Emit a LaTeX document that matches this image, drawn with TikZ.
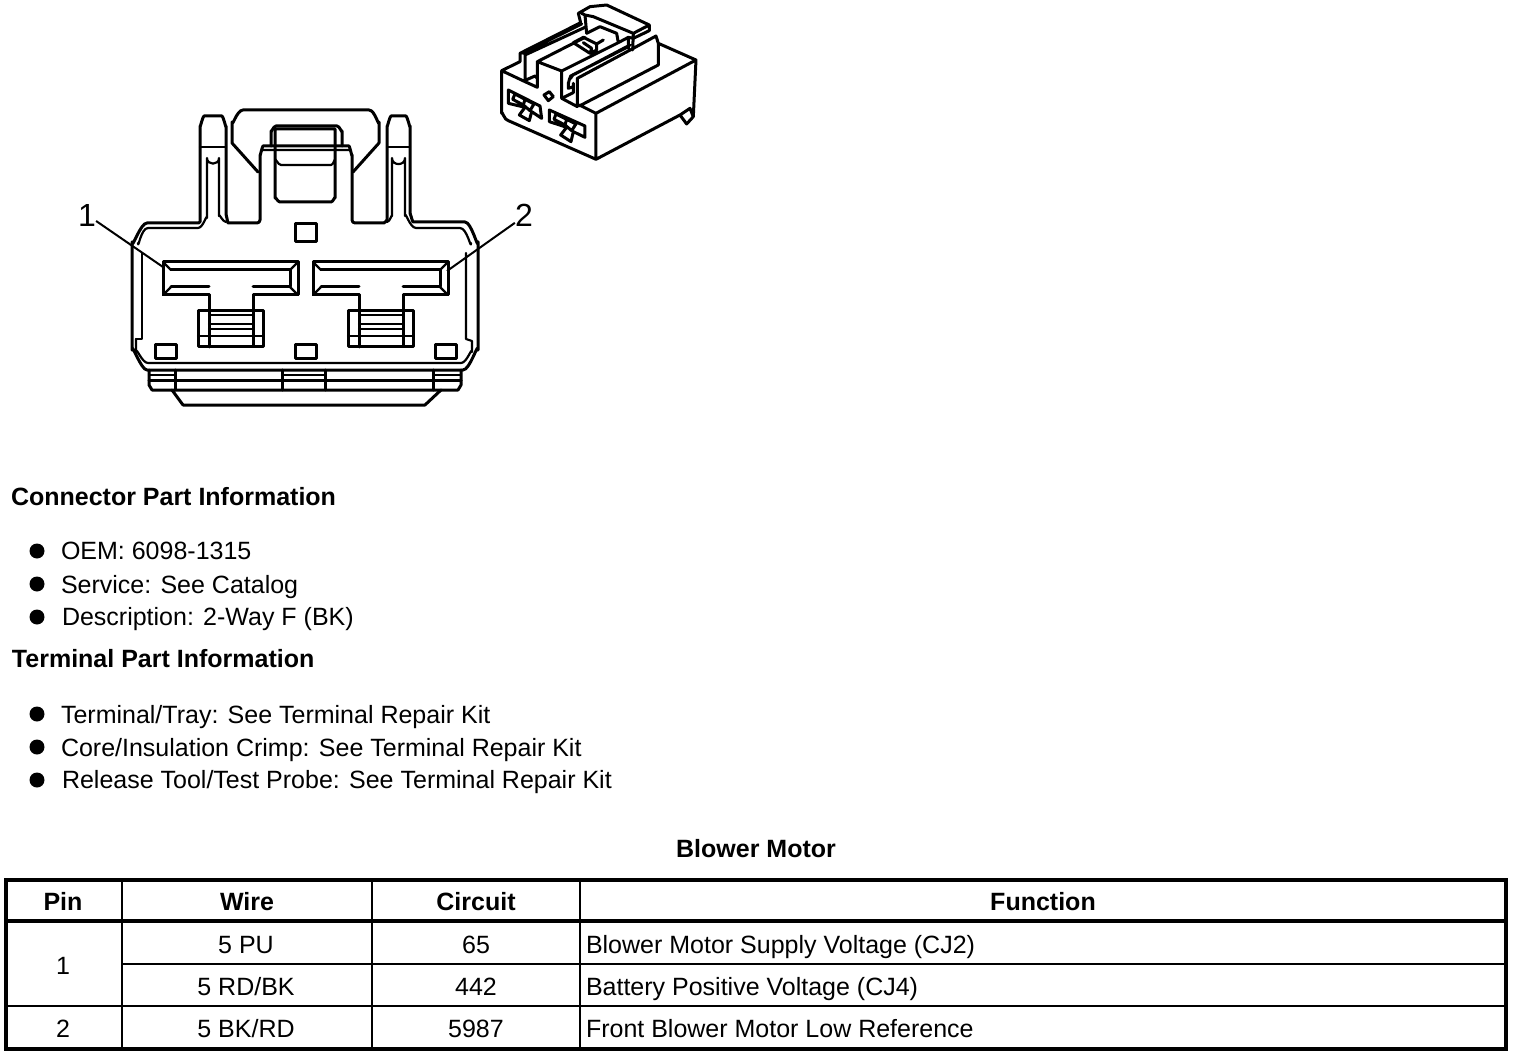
\documentclass[tikz,border=0pt]{standalone}
\usepackage{fontspec}
\setmainfont{Liberation Sans}
\tikzset{
  x=1pt,y=-1pt,
  ln/.style={line width=3pt,line cap=round,line join=round},
  thin ln/.style={line width=2.2pt,line cap=round,line join=round},
  txt/.style={anchor=base west,inner sep=0pt,outer sep=0pt,font=\fontsize{25}{28}\selectfont},
  ctr/.style={anchor=base,inner sep=0pt,outer sep=0pt,font=\fontsize{25}{28}\selectfont},
  hd/.style={font=\fontsize{25}{28}\selectfont\bfseries},
  bul/.style={circle,fill=black,inner sep=0pt,minimum size=15pt},
  num/.style={anchor=base,inner sep=0pt,font=\fontsize{32}{36}\selectfont}
}
\newcommand{\termT}[1]{%
\begin{scope}[xshift=#1 pt]
 \draw[ln] (163,262)--(298,262)--(298,295)--(253,295)--(253,347)--(198,347)--(198,311)--(209,311)--(209,295)--(163,295)--cycle;
 \draw[ln] (171,270)--(290,270)--(290,287)--(253,287) (209,287)--(171,287)--cycle;
 \draw[thin ln] (163,262)--(171,270) (298,262)--(290,270) (163,295)--(171,287) (298,295)--(290,287);
 \draw[ln] (209,311)--(253,311) (253,311)--(263,311)--(263,347)--(253,347);
 \draw[ln] (209,295)--(209,347);
 \draw[thin ln] (209,315)--(253,315) (209,324)--(253,324) (209,329)--(253,329) (198,336)--(263,336);
\end{scope}}
\begin{document}
\begin{tikzpicture}
\useasboundingbox (0,0) rectangle (1520,1056);
% body outer
\draw[ln,rounded corners=3pt] (150,370) to[out=180,in=90,looseness=0.9] (132,352) -- (132,240)
 to[out=-90,in=180] (150,223) -- (196,223) to[out=0,in=-90] (200,219) -- (200,124) to[out=-90,in=180] (207,116)
 -- (219,116) to[out=0,in=-90] (226,124) -- (226,217) to[out=90,in=180] (231,223) -- (260,223) -- (260,153)
 to[out=-90,in=180] (266,146) -- (346,146) to[out=0,in=-90] (352,153) -- (352,223) -- (381,223)
 to[out=0,in=-90] (387,217) -- (387,124) to[out=-90,in=180] (394,116) -- (403,116) to[out=0,in=-90] (410,124)
 -- (410,216) to[out=90,in=180] (416,222) -- (462,222) to[out=0,in=-90] (478,240) -- (478,352) to[out=90,in=0] (460,370) -- cycle;
% tab cross lines and slots
\draw[thin ln] (200,147)--(226,147) (387,147)--(410,147);
\draw[thin ln] (148,228) -- (198,228) to[out=0,in=90] (207,218) -- (207,158) to[out=-90,in=-90,looseness=1.6] (219,158) -- (219,216) to[out=90,in=180] (226,222);
\draw[thin ln] (387,222) to[out=0,in=90] (392,216) -- (392,158) to[out=-90,in=-90,looseness=1.6] (405,158) -- (405,216) to[out=90,in=180] (416,228) -- (460,228) to[out=0,in=-90] (471,243);
% inner body lines
\draw[thin ln] (148,228) to[out=180,in=-90] (138,243);
\draw[thin ln] (142,253) -- (142,339) -- (136,339);
\draw[thin ln] (136,339) -- (136,352) to[out=90,in=180] (148,363) -- (461,363) to[out=0,in=90] (472,352) -- (472,341) -- (466,339) -- (466,253);
% handle
\draw[ln] (258,172) -- (232,143) -- (232,122) to[out=-90,in=180] (243,110) -- (369,110) to[out=0,in=-90] (379,122) -- (379,143) -- (353,172);
% latch
\draw[ln] (271,146) -- (271,131) to[out=-90,in=180] (276,126) -- (337,126) to[out=0,in=-90] (342,131) -- (342,146);
\draw[ln] (275,146) -- (275,129) -- (335,129) -- (335,198) to[out=90,in=0] (331,202) -- (280,202) to[out=180,in=90] (275,198) -- (275,146);
\draw[thin ln] (262,150)--(350,150) (275,160) to[out=90,in=180] (281,165) -- (331,165) to[out=0,in=90] (335,160);
% squares
\draw[ln] (295,224) rectangle (316,242);
\draw[ln] (155,345) rectangle (176,359);
\draw[ln] (295,345) rectangle (316,359);
\draw[ln] (435,345) rectangle (456,359);
% terminals
\termT{0}
\termT{150}
% foot
\draw[ln] (149,370) -- (149,385) -- (152,390) -- (458,390) -- (461,385) -- (461,370);
\draw[ln] (149,380) -- (461,380);
\draw[ln] (175,370)--(175,390) (282,370)--(282,390) (325,370)--(325,390) (433,370)--(433,390);
\draw[thin ln] (149,375)--(175,375) (282,375)--(325,375) (433,375)--(461,375);
\draw[ln] (172,390) -- (183,405) -- (425,405) -- (441,390);
% labels
\node[num] (one) at (87,227) {1};
\node[num] (two) at (524,227) {2};
\coordinate (oneEnd) at (163,267);
\coordinate (twoEnd) at (447,271);
\draw[line width=2pt] (one.east) ++(0,5) -- (oneEnd);
\draw[line width=2pt] (two.west) ++(0,7) -- (twoEnd);
% iso view
\begin{scope}[shift={(490,0)},x=0.3333pt,y=-0.3333pt]
 \draw[line width=3pt,line cap=round,line join=round]
  % body
  (35,212) -- (35,340) to[out=90,in=180] (55,362) -- (300,470) -- (318,478) -- (570,345) -- (590,372) -- (610,350) -- (618,180) -- (505,130)
  (570,345) -- (600,325) -- (610,350)
  (268,315) -- (318,340) -- (618,180)
  (318,340) -- (318,475)
  % front top edge
  (35,212) -- (90,185) -- (90,160) -- (272,68) -- (265,40) -- (300,20) -- (350,15) -- (478,75) -- (478,92) -- (430,115)
  (35,212) -- (105,245) -- (142,262) -- (142,185) -- (285,112)
  (105,245) -- (105,165) -- (285,82)
  (97,160) -- (275,72)
  (108,240) -- (135,228) -- (142,235)
  (285,45) -- (290,100)
  (275,40) -- (285,45) -- (310,50) -- (430,100) -- (478,75)
  (430,100) -- (428,150)
  % centre block
  (142,185) -- (215,213) -- (215,295) -- (250,278) -- (250,250)
  (215,213) -- (385,128) -- (380,100) -- (330,80) -- (290,100)
  (385,128) -- (415,112) -- (430,115)
  (415,112) -- (415,145)
  % latch piece
  (250,128) -- (280,112) -- (320,132) -- (320,150) -- (300,160) -- cycle
  (300,160) -- (305,145) -- (280,128)
  (320,132) -- (340,120)
  % right rail
  (235,248) to[out=-90,in=150] (248,225) -- (415,140)
  (240,235) to[out=-90,in=150] (255,222) -- (420,135)
  (235,248) -- (235,265) -- (250,260)
  (215,295) -- (262,320) -- (262,235) -- (430,145) -- (498,108) -- (505,130) -- (505,195) -- (268,318)
  % socket mark
  (178,275) -- (162,285) -- (175,302) -- (190,290) -- cycle
  % terminal 1
  (55,270) -- (150,318) -- (155,355) -- (125,335) -- (118,362) -- (88,345) -- (105,322) -- (55,310) -- cycle
  (75,282) -- (68,298) -- (100,315) -- (105,298) -- cycle
  (105,298) -- (132,312) -- (120,332) -- (100,315)
  % terminal 2
  (178,330) -- (285,378) -- (285,412) -- (250,395) -- (243,425) -- (212,405) -- (230,382) -- (178,365) -- cycle
  (198,342) -- (192,358) -- (225,375) -- (230,358) -- cycle
  (230,358) -- (258,372) -- (245,392) -- (225,375);
\end{scope}
% text
\node[txt,hd] (t1) at (11,505) {Connector Part Information};
\node[bul] (b1) at (37,551) {}; \node[txt] (o1) at (61,559) {OEM: 6098-1315};
\node[bul] (b2) at (37,584) {}; \node[txt] (o2) at (61,593) {Service: See Catalog};
\node[bul] (b3) at (37,617) {}; \node[txt] (o3) at (62,625) {Description: 2-Way F (BK)};
\node[txt,hd] (t2) at (12,667) {Terminal Part Information};
\node[bul] (b4) at (37,714) {}; \node[txt] (o4) at (61,723) {Terminal/Tray: See Terminal Repair Kit};
\node[bul] (b5) at (37,747) {}; \node[txt] (o5) at (61,756) {Core/Insulation Crimp: See Terminal Repair Kit};
\node[bul] (b6) at (37,780) {}; \node[txt] (o6) at (62,788) {Release Tool/Test Probe: See Terminal Repair Kit};
\node[ctr,hd] (title) at (756,857) {Blower Motor};
% table
\draw[line width=3.6pt] (6,880) rectangle (1506,1049);
\draw[line width=3.6pt] (6,921) -- (1506,921);
\draw[line width=1.6pt] (122,964) -- (1506,964);
\draw[line width=1.6pt] (6,1006) -- (1506,1006);
\draw[line width=2pt] (122,880)--(122,1049) (372,880)--(372,1049) (580,880)--(580,1049);
\node[ctr,hd] (hp) at (63,910) {Pin};
\node[ctr,hd] (hw) at (247,910) {Wire};
\node[ctr,hd] (hc) at (476,910) {Circuit};
\node[ctr,hd] (hf) at (1043,910) {Function};
\node[ctr] (p1) at (63,974) {1};
\node[ctr] (w1) at (246,953) {5 PU};
\node[ctr] (c1) at (476,953) {65};
\node[txt] (f1) at (586,953) {Blower Motor Supply Voltage (CJ2)};
\node[ctr] (w2) at (246,995) {5 RD/BK};
\node[ctr] (c2) at (476,995) {442};
\node[txt] (f2) at (586,995) {Battery Positive Voltage (CJ4)};
\node[ctr] (p2) at (63,1037) {2};
\node[ctr] (w3) at (246,1037) {5 BK/RD};
\node[ctr] (c3) at (476,1037) {5987};
\node[txt] (f3) at (586,1037) {Front Blower Motor Low Reference};
\end{tikzpicture}
\end{document}
